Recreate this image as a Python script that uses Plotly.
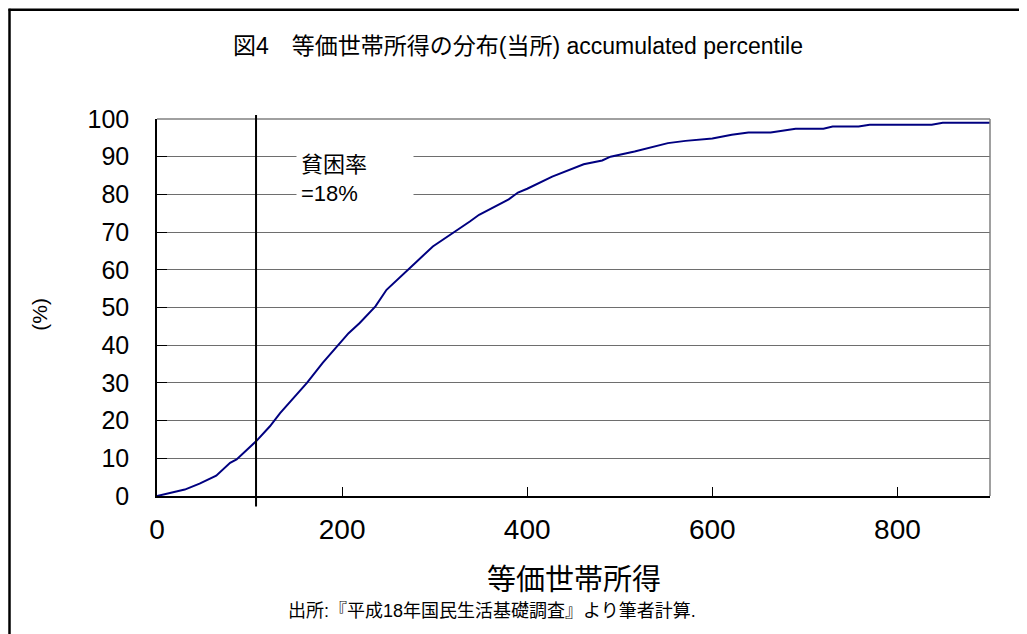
import plotly.graph_objects as go

# Data
income = [0, 14, 30, 46, 64, 79, 86, 107, 122, 133, 162, 179, 198, 207, 219, 236, 248, 262,
          279, 298, 320, 338, 348, 380, 390, 400, 427, 443, 461, 481, 490, 516, 552, 571,
          600, 621, 639, 663, 678, 690, 720, 730, 758, 770, 837, 849, 900]
cum_pct = [0, 0.8, 1.7, 3.3, 5.4, 8.8, 9.7, 14.5, 18.5, 22, 30, 35.3, 40.6, 43.2, 45.9, 50.3,
           54.7, 57.8, 61.8, 66.2, 69.7, 72.8, 74.6, 78.7, 80.5, 81.5, 84.7, 86.2, 88, 89, 90,
           91.4, 93.6, 94.2, 94.8, 95.8, 96.4, 96.4, 96.9, 97.4, 97.4, 98, 98, 98.5, 98.5, 99, 99]
x_ticks = [0, 200, 400, 600, 800]
y_ticks = [0, 10, 20, 30, 40, 50, 60, 70, 80, 90, 100]
poverty_line = 107
x_range = [0, 900]
y_range = [0, 100]

title_text = "図4　等価世帯所得の分布(当所) accumulated percentile"
x_title = "等価世帯所得"
y_title = "(%)"
source_text = "出所:『平成18年国民生活基礎調査』より筆者計算."
note_text = "貧困率<br>=18%"

FONT = "Liberation Sans, Arial, Noto Sans CJK JP, sans-serif"

# page geometry (pixels); the page body adds an 8px margin
OFF = 8
PAGE_W, PAGE_H = 1027, 634
W, H = PAGE_W - OFF, PAGE_H - OFF
PL, PR, PT, PB = 157, 990, 119, 496.5   # plot area in page coordinates
L, T = PL - OFF, PT - OFF
R, B = W - (PR - OFF), H - (PB - OFF)
pw, ph = W - L - R, H - T - B

def px_to_paper_x(px):
    return (px - OFF - L) / pw

def px_to_paper_y(py):
    return (H - B - (py - OFF)) / ph

fig = go.Figure()
fig.add_trace(go.Scatter(
    x=income, y=cum_pct, mode="lines",
    line=dict(color="#000080", width=2),
    showlegend=False, hoverinfo="x+y",
))

pov_paper = (poverty_line - x_range[0]) / (x_range[1] - x_range[0])

shapes = [
    dict(type="line", xref="paper", yref="paper", x0=1, x1=1, y0=0, y1=1,
         line=dict(color="#808080", width=1.5)),
    dict(type="line", xref="paper", yref="paper", x0=0, x1=1, y0=1, y1=1,
         line=dict(color="#808080", width=1.5)),
    dict(type="line", xref="paper", yref="paper", x0=pov_paper, x1=pov_paper,
         y0=px_to_paper_y(507), y1=px_to_paper_y(115),
         line=dict(color="black", width=2)),
    # outer frame: left and top edges
    dict(type="line", xref="paper", yref="paper",
         x0=px_to_paper_x(9.5), x1=px_to_paper_x(9.5),
         y0=px_to_paper_y(640), y1=px_to_paper_y(8.5),
         line=dict(color="black", width=2.5)),
    dict(type="line", xref="paper", yref="paper",
         x0=px_to_paper_x(8.5), x1=px_to_paper_x(1040),
         y0=px_to_paper_y(9.5), y1=px_to_paper_y(9.5),
         line=dict(color="black", width=2.5)),
]

annotations = [
    dict(text=title_text, xref="paper", yref="paper",
         x=px_to_paper_x(518), y=px_to_paper_y(46), xanchor="center", yanchor="middle",
         showarrow=False, font=dict(size=23, color="black", family=FONT)),
    dict(text=x_title, xref="paper", yref="paper",
         x=px_to_paper_x(574), y=px_to_paper_y(581), xanchor="center", yanchor="middle",
         showarrow=False, font=dict(size=29, color="black", family=FONT)),
    dict(text=y_title, xref="paper", yref="paper", textangle=-90,
         x=px_to_paper_x(40), y=px_to_paper_y(315), xanchor="center", yanchor="middle",
         showarrow=False, font=dict(size=21, color="black", family=FONT)),
    dict(text=source_text, xref="paper", yref="paper",
         x=px_to_paper_x(492), y=px_to_paper_y(612), xanchor="center", yanchor="middle",
         showarrow=False, font=dict(size=18, color="black", family=FONT)),
    dict(text=note_text, xref="paper", yref="paper",
         x=px_to_paper_x(296), y=px_to_paper_y(179), xanchor="left", yanchor="middle",
         align="left", width=108, height=70, bgcolor="white", borderpad=4,
         showarrow=False, font=dict(size=22, color="black", family=FONT)),
]

fig.update_layout(
    width=W, height=H,
    margin=dict(l=L, r=R, t=T, b=B, pad=0),
    paper_bgcolor="white", plot_bgcolor="white",
    font=dict(family=FONT, color="black"),
    shapes=shapes, annotations=annotations,
    showlegend=False,
)
fig.update_xaxes(
    range=x_range, tickvals=x_ticks, ticktext=[str(v) for v in x_ticks],
    showgrid=False, zeroline=False,
    showline=True, linecolor="black", linewidth=1.5,
    ticks="inside", ticklen=9, tickcolor="black", tickwidth=1,
    tickfont=dict(size=28, family=FONT, color="black"),
    ticklabelstandoff=8,
)
fig.update_yaxes(
    range=y_range, tickvals=y_ticks, ticktext=[str(v) for v in y_ticks],
    showgrid=True, gridcolor="#6e6e6e", gridwidth=1.3, zeroline=False,
    showline=True, linecolor="black", linewidth=1.5,
    ticks="inside", ticklen=10, tickcolor="black", tickwidth=1,
    tickfont=dict(size=25, family=FONT, color="black"),
    ticklabelstandoff=21,
)

fig.write_html("out.html")
